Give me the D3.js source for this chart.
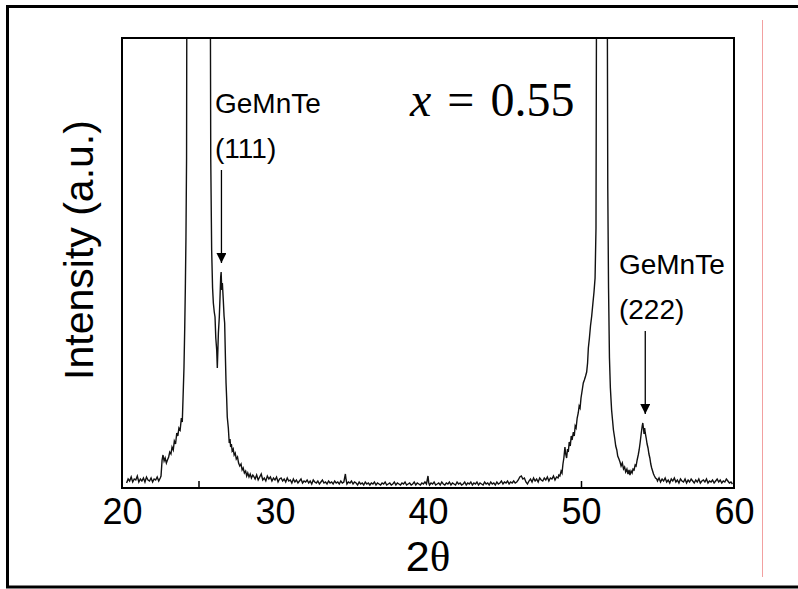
<!DOCTYPE html>
<html>
<head>
<meta charset="utf-8">
<script src="https://cdn.jsdelivr.net/npm/d3@7"></script>
<style>
  body { margin: 0; background: #fff; }
  svg text { font-family: "Liberation Sans", Arial, sans-serif; fill: #000; }
</style>
</head>
<body>
<div id="vis1" style="width:798px;height:589px;"></div>
<script>
/*
Data (2theta in degrees, intensity in arbitrary units)
*/

const xTicks = [20, 30, 40, 50, 60];
const xMinorTicks = [25, 50];

// XRD scan; substrate peaks run off the top of the frame
const scan = [
  [20.3,5],[20.4,9],[20.5,7],[20.6,11],[20.7,6],[20.8,9],[20.9,8],[21.0,12],[21.1,6],[21.2,9],
  [21.3,7],[21.4,10],[21.5,6],[21.6,11],[21.7,8],[21.8,7],[21.9,10],[22.0,6],[22.1,9],[22.2,8],
  [22.3,11],[22.4,7],[22.5,10],[22.55,12],[22.62,28],[22.68,33],[22.75,27],[22.82,30],[22.9,25],
  [22.97,28],[23.05,31],[23.12,36],[23.2,34],[23.27,41],[23.35,38],[23.42,47],[23.5,44],[23.58,55],
  [23.65,52],[23.72,60],[23.8,58],[23.88,70],[23.94,66],[24.0,95],[24.05,120],[24.1,160],[24.14,200],
  [24.18,250],[24.22,330],[24.26,700],[25.0,3000],[25.74,700],[25.8,330],[25.86,238],[25.92,200],
  [25.97,185],[26.03,176],[26.08,171],[26.13,150],[26.19,138],[26.23,120],[26.27,140],[26.3,155],
  [26.36,171],[26.4,188],[26.45,211],[26.48,216],[26.52,198],[26.56,205],[26.62,188],[26.67,172],
  [26.71,165],[26.76,130],[26.8,105],[26.84,90],[26.88,71],[26.95,60],[27.01,45],[27.06,49],
  [27.1,41],[27.15,44],[27.2,37],[27.27,39],[27.33,33],[27.4,35],[27.47,29],[27.55,31],[27.62,25],
  [27.7,22],[27.78,24],[27.85,18],[27.92,20],[28.0,15],[28.08,17],[28.15,12],[28.22,15],[28.3,11],
  [28.38,14],[28.46,10],[28.55,13],
  [28.6,12],[28.7,9],[28.8,13],[28.9,8],[29.0,11],[29.1,14],[29.2,8],[29.3,10],[29.4,7],[29.5,12],
  [29.6,9],[29.7,11],[29.8,7],[29.9,10],[30.0,8],[30.1,11],[30.2,6],[30.3,9],[30.4,10],[30.5,7],
  [30.6,9],[30.7,6],[30.8,10],[30.9,7],[31.0,8],[31.1,5],[31.2,9],[31.3,6],[31.4,8],[31.5,5],
  [31.6,7],[31.7,9],[31.8,5],[31.9,7],[32.0,6],[32.1,8],[32.2,5],[32.3,7],[32.4,4],[32.5,8],
  [32.6,6],[32.7,5],[32.8,7],[32.9,4],[33.0,6],[33.1,8],[33.2,5],[33.3,6],[33.4,4],[33.5,7],
  [33.6,5],[33.7,6],[33.8,4],[33.9,7],[34.0,5],[34.1,6],[34.2,4],[34.3,7],[34.4,5],[34.5,6],
  [34.6,14],[34.65,8],[34.7,4],[34.8,6],[34.9,5],[35.0,7],[35.1,4],[35.2,6],[35.3,5],[35.4,3],
  [35.5,6],[35.6,4],[35.7,5],[35.8,3],[35.9,6],[36.0,4],[36.1,5],[36.2,3],[36.3,5],[36.4,4],
  [36.5,6],[36.6,3],[36.7,5],[36.8,4],[36.9,3],[37.0,5],[37.1,4],[37.2,6],[37.3,3],[37.4,4],
  [37.5,5],[37.6,3],[37.7,4],[37.8,6],[37.9,3],[38.0,5],[38.1,4],[38.2,3],[38.3,5],[38.4,4],
  [38.5,6],[38.6,3],[38.7,4],[38.8,5],[38.9,3],[39.0,4],[39.1,6],[39.2,3],[39.3,5],[39.4,4],
  [39.5,3],[39.6,5],[39.7,4],[39.8,6],[39.9,4],[40.0,12],[40.05,5],[40.1,3],[40.2,5],[40.3,4],
  [40.4,6],[40.5,3],[40.6,4],[40.7,5],[40.8,3],[40.9,6],[41.0,4],[41.1,3],[41.2,5],[41.3,4],
  [41.4,6],[41.5,3],[41.6,5],[41.7,4],[41.8,3],[41.9,6],[42.0,4],[42.1,5],[42.2,3],[42.3,4],
  [42.4,6],[42.5,3],[42.6,5],[42.7,4],[42.8,6],[42.9,3],[43.0,5],[43.1,4],[43.2,6],[43.3,3],
  [43.4,5],[43.5,4],[43.6,3],[43.7,6],[43.8,4],[43.9,5],[44.0,3],[44.1,6],[44.2,4],[44.3,5],
  [44.4,3],[44.5,6],[44.6,4],[44.7,5],[44.8,7],[44.9,4],[45.0,6],[45.1,5],[45.2,7],[45.3,4],
  [45.4,6],[45.5,5],[45.6,7],[45.7,5],[45.8,6],[45.9,8],[46.0,11],[46.1,12],[46.2,9],[46.3,10],
  [46.4,6],[46.5,4],[46.6,7],[46.7,9],[46.8,6],[46.9,10],[47.0,7],[47.1,9],[47.2,6],[47.3,10],
  [47.4,8],[47.5,7],[47.6,10],[47.7,8],[47.8,11],[47.9,7],[48.0,10],[48.1,9],[48.2,12],[48.3,8],
  [48.4,11],[48.5,10],
  [48.55,13],[48.62,12],[48.7,17],[48.76,15],[48.82,24],[48.88,30],[48.95,41],[49.0,34],[49.06,30],
  [49.12,39],[49.17,36],[49.23,46],[49.3,42],[49.36,52],[49.42,48],[49.5,56],[49.56,52],[49.62,62],
  [49.68,60],[49.75,70],[49.82,75],[49.88,82],[49.94,80],[50.0,90],[50.05,95],[50.1,100],[50.15,105],
  [50.22,108],[50.3,112],[50.37,116],[50.43,125],[50.48,140],[50.55,150],[50.62,162],[50.7,172],
  [50.78,185],[50.85,196],[50.92,210],[50.98,260],[51.03,600],[51.35,3000],[51.7,600],[51.75,300],
  [51.8,200],[51.86,130],[51.92,100],[52.0,78],[52.06,68],[52.12,58],[52.2,50],[52.27,42],[52.34,38],
  [52.4,32],[52.48,29],[52.55,26],[52.62,22],[52.7,25],[52.78,19],[52.85,21],[52.92,16],[53.0,19],
  [53.07,14],[53.14,18],[53.2,13],[53.27,17],[53.34,15],[53.4,19],[53.47,18],[53.54,23],[53.6,22],
  [53.67,28],[53.74,33],[53.8,38],[53.87,46],[53.94,55],[54.0,62],[54.04,65],[54.08,60],[54.12,54],
  [54.16,60],[54.2,55],[54.26,50],[54.32,44],[54.38,40],[54.44,34],[54.5,30],[54.56,24],[54.62,20],
  [54.68,17],[54.74,14],[54.8,12],[54.87,10],[54.95,9],
  [55.0,7],[55.1,10],[55.2,6],[55.3,9],[55.4,7],[55.5,10],[55.6,6],[55.7,8],[55.8,5],[55.9,9],
  [56.0,7],[56.1,10],[56.2,6],[56.3,8],[56.4,5],[56.5,9],[56.6,7],[56.7,6],[56.8,9],[56.9,5],
  [57.0,8],[57.1,6],[57.2,9],[57.3,7],[57.4,5],[57.5,8],[57.6,6],[57.7,9],[57.8,5],[57.9,7],
  [58.0,8],[58.1,6],[58.2,9],[58.3,5],[58.4,7],[58.5,6],[58.6,8],[58.7,5],[58.8,7],[58.9,9],
  [59.0,6],[59.1,8],[59.2,5],[59.3,7],[59.4,6],[59.5,9],[59.6,7],[59.7,5],[59.8,6],[59.9,4]
];

// peak annotations: arrow at the peak, label to the left
const peakTheta = [26.5, 54.2];
const peakIntensity = [216, 65];
const peakNames = ["GeMnTe", "GeMnTe"];
const peakIndex = ["(111)", "(222)"];
const labelTheta = [26.08, 52.48];
const labelLevel = [375, 214];

/*
Size constants
*/

const WIDTH = 798;
const HEIGHT = 589;
const margin = {top: 38, right: 64, bottom: 101, left: 122};
const width = WIDTH - margin.left - margin.right;
const height = HEIGHT - margin.top - margin.bottom;

/*
Scales
*/

const x = d3.scaleLinear().domain([20, 60]).range([0, width]);
const y = d3.scaleLinear().domain([0, 450]).range([height, 0]);

const svg = d3.select("#vis1")
  .append("svg")
  .attr("width", WIDTH)
  .attr("height", HEIGHT);

// outer page frame (right edge runs off the picture)
svg.append("rect")
  .attr("x", 7.5).attr("y", 6.5)
  .attr("width", 810).attr("height", 580.5)
  .attr("fill", "none")
  .attr("stroke", "#000")
  .attr("stroke-width", 3);

// thin red guide line on the right
svg.append("line")
  .attr("x1", 762.5).attr("x2", 762.5)
  .attr("y1", 20).attr("y2", 577)
  .attr("stroke", "#f2a0a0")
  .attr("stroke-width", 1);

const plot = svg.append("g")
  .attr("transform", `translate(${margin.left}, ${margin.top})`);

plot.append("clipPath").attr("id", "clip")
  .append("rect").attr("width", width).attr("height", height);

// data line
const line = d3.line()
  .x(d => x(d[0]))
  .y(d => y(d[1]));

plot.append("path")
  .datum(scan)
  .attr("clip-path", "url(#clip)")
  .attr("d", line)
  .attr("fill", "none")
  .attr("stroke", "#111")
  .attr("stroke-width", 1.4)
  .attr("stroke-linejoin", "miter");

// x axis labels
const xAxis = plot.append("g")
  .attr("transform", `translate(0, ${height})`)
  .call(d3.axisBottom(x).tickValues(xTicks).tickSize(0).tickFormat(d3.format("d")));
xAxis.select(".domain").remove();
xAxis.selectAll("text")
  .attr("y", 36).attr("dy", null)
  .style("font-size", "36px");

// inward minor ticks
const minor = plot.append("g")
  .attr("transform", `translate(0, ${height})`)
  .call(d3.axisBottom(x).tickValues(xMinorTicks).tickSizeInner(-7).tickSizeOuter(0).tickFormat(""));
minor.select(".domain").remove();
minor.selectAll("line").attr("stroke-width", 1.5);

// frame
plot.append("rect")
  .attr("width", width).attr("height", height)
  .attr("fill", "none")
  .attr("stroke", "#000")
  .attr("stroke-width", 2);

// axis titles
const xTitle = svg.append("text")
  .attr("x", margin.left + x(40))
  .attr("y", 571)
  .attr("text-anchor", "middle")
  .style("font-size", "43px");
xTitle.append("tspan").text("2");
xTitle.append("tspan").style("font-family", "'Liberation Serif', 'Times New Roman', serif").text("θ");

svg.append("text")
  .attr("transform", "translate(93, 250) rotate(-90)")
  .attr("text-anchor", "middle")
  .style("font-size", "41px")
  .text("Intensity (a.u.)");

// composition label
const comp = svg.append("text")
  .attr("x", 410).attr("y", 116)
  .style("font-family", "'Liberation Serif', 'Times New Roman', serif")
  .style("font-size", "48px")
  .style("word-spacing", "4px");
comp.append("tspan").style("font-style", "italic").text("x");
comp.append("tspan").text(" = 0.55");

// arrowhead
svg.append("defs").append("marker")
  .attr("id", "arrow")
  .attr("viewBox", "0 0 10 10")
  .attr("refX", 10).attr("refY", 5)
  .attr("markerWidth", 10).attr("markerHeight", 10)
  .attr("markerUnits", "userSpaceOnUse")
  .attr("orient", "auto")
  .append("path")
  .attr("d", "M0,0 L10,5 L0,10 Z")
  .attr("fill", "#000");

// peak annotations
peakTheta.forEach((t, i) => {
  const g = plot.append("g");
  const tx = x(labelTheta[i]);
  const ty = y(labelLevel[i]);
  g.append("text").attr("x", tx).attr("y", ty)
    .style("font-size", "28px").text(peakNames[i]);
  g.append("text").attr("x", tx).attr("y", ty + 45)
    .style("font-size", "28px").text(peakIndex[i]);
  g.append("line")
    .attr("x1", x(t)).attr("x2", x(t))
    .attr("y1", ty + 57)
    .attr("y2", y(peakIntensity[i]) - 9)
    .attr("stroke", "#000")
    .attr("stroke-width", 1.3)
    .attr("marker-end", "url(#arrow)");
});
</script>
</body>
</html>
